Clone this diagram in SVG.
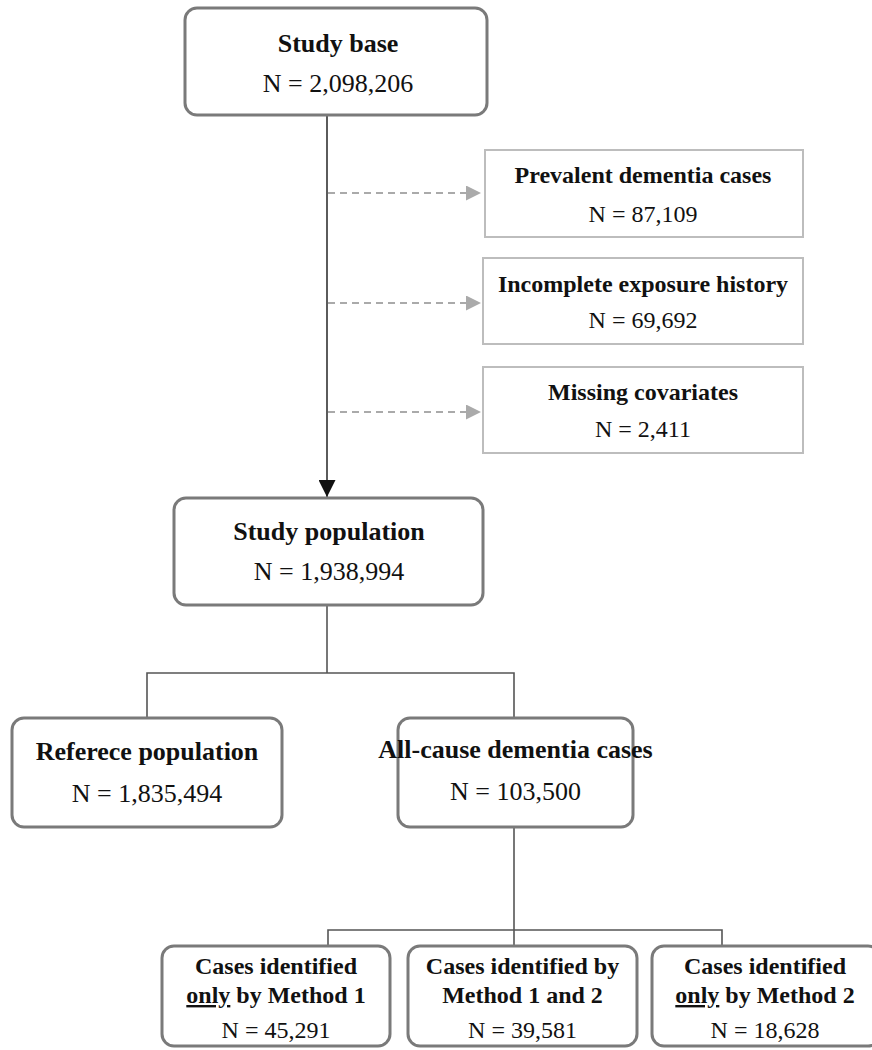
<svg xmlns="http://www.w3.org/2000/svg" width="872" height="1050" viewBox="0 0 872 1050">
<style>
.rbox{fill:#fff;stroke:#7a7a7a;stroke-width:3}
.sbox{fill:#fff;stroke:#bdbdbd;stroke-width:2}
.t{font-family:"Liberation Serif","Times New Roman",serif;fill:#111;text-anchor:middle}
.b{font-weight:bold}
.s26{font-size:26px}
.s24{font-size:24px}
.line{stroke:#555;stroke-width:1.6;fill:none}
.main{stroke:#333;stroke-width:1.6;fill:none}
.dash{stroke:#aaa;stroke-width:2;stroke-dasharray:7 5;fill:none}
</style>
<defs>
<marker id="ah" viewBox="0 0 10 10" refX="10" refY="5" markerWidth="17" markerHeight="17" markerUnits="userSpaceOnUse" orient="auto">
<path d="M0,0 L10,5 L0,10 Z" fill="#111"/>
</marker>
<marker id="gh" viewBox="0 0 10 10" refX="10" refY="5" markerWidth="15" markerHeight="15" markerUnits="userSpaceOnUse" orient="auto">
<path d="M0,0 L10,5 L0,10 Z" fill="#aaa"/>
</marker>
</defs>
<g id="connectors">
<line class="main" x1="327" y1="116" x2="327" y2="497" marker-end="url(#ah)"/>
<line class="dash" x1="328" y1="193" x2="481" y2="193" marker-end="url(#gh)"/>
<line class="dash" x1="328" y1="303" x2="481" y2="303" marker-end="url(#gh)"/>
<line class="dash" x1="328" y1="412" x2="481" y2="412" marker-end="url(#gh)"/>
<polyline class="line" points="327,605 327,673"/>
<polyline class="line" points="147,718 147,673 514,673 514,718"/>
<polyline class="line" points="514,827 514,946"/>
<polyline class="line" points="328,946 328,930 722,930 722,946"/>
</g>
<g id="study-base">
<rect class="rbox" x="185" y="8" width="302" height="107" rx="12"/>
<text class="t b s26" x="338" y="52">Study base</text>
<text class="t s26" x="338" y="92">N = 2,098,206</text>
</g>
<g id="prevalent">
<rect class="sbox" x="485" y="150" width="318" height="87"/>
<text class="t b s24" x="643" y="183">Prevalent dementia cases</text>
<text class="t s24" x="643" y="222">N = 87,109</text>
</g>
<g id="incomplete">
<rect class="sbox" x="483" y="258" width="320" height="86"/>
<text class="t b s24" x="643" y="292">Incomplete exposure history</text>
<text class="t s24" x="643" y="328">N = 69,692</text>
</g>
<g id="missing">
<rect class="sbox" x="483" y="367" width="320" height="86"/>
<text class="t b s24" x="643" y="400">Missing covariates</text>
<text class="t s24" x="643" y="437">N = 2,411</text>
</g>
<g id="study-population">
<rect class="rbox" x="174" y="498" width="309" height="107" rx="12"/>
<text class="t b s26" x="329" y="540">Study population</text>
<text class="t s26" x="329" y="580">N = 1,938,994</text>
</g>
<g id="reference-population">
<rect class="rbox" x="12" y="718" width="270" height="109" rx="12"/>
<text class="t b s26" x="147" y="760">Referece population</text>
<text class="t s26" x="147" y="802">N = 1,835,494</text>
</g>
<g id="all-cause">
<rect class="rbox" x="398" y="718" width="235" height="109" rx="12"/>
<text class="t b s26" x="515.5" y="758">All-cause dementia cases</text>
<text class="t s26" x="515.5" y="800">N = 103,500</text>
</g>
<g id="only-method1">
<rect class="rbox" x="162" y="946" width="228" height="100" rx="12"/>
<text class="t b s24" x="276" y="974">Cases identified</text>
<text class="t b s24" x="276" y="1003"><tspan text-decoration="underline">only</tspan> by Method 1</text>
<text class="t s24" x="276" y="1038">N = 45,291</text>
</g>
<g id="both-methods">
<rect class="rbox" x="408" y="946" width="229" height="100" rx="12"/>
<text class="t b s24" x="522.5" y="974">Cases identified by</text>
<text class="t b s24" x="522.5" y="1003">Method 1 and 2</text>
<text class="t s24" x="522.5" y="1038">N = 39,581</text>
</g>
<g id="only-method2">
<rect class="rbox" x="652" y="946" width="228" height="100" rx="12"/>
<text class="t b s24" x="765" y="974">Cases identified</text>
<text class="t b s24" x="765" y="1003"><tspan text-decoration="underline">only</tspan> by Method 2</text>
<text class="t s24" x="765" y="1038">N = 18,628</text>
</g>
</svg>
